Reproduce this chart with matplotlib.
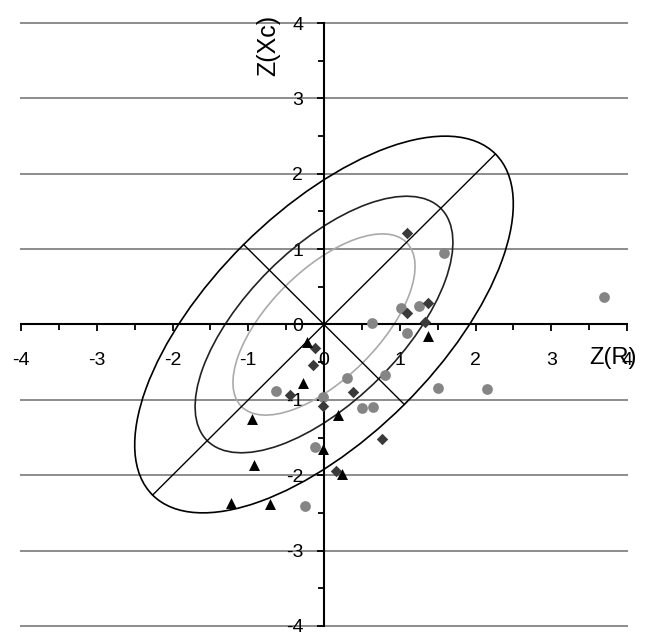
import matplotlib
matplotlib.use("Agg")
import matplotlib.pyplot as plt
import numpy as np
from matplotlib.patches import Ellipse
from matplotlib.ticker import MultipleLocator, FuncFormatter

plt.rcParams['font.family'] = ['Liberation Sans', 'DejaVu Sans']

# grey circles
circ_x = [1.58, 1.01, 1.26, 0.64, 1.09, 0.81, 0.30, 1.51, 2.15, -0.63, -0.01, 0.50, 0.65, -0.12, -0.25, 3.69]
circ_y = [0.95, 0.22, 0.24, 0.02, -0.11, -0.67, -0.71, -0.84, -0.85, -0.88, -0.96, -1.11, -1.09, -1.62, -2.41, 0.37]
# dark diamonds
diam_x = [1.10, 1.37, 1.10, 1.33, -0.12, -0.14, -0.45, 0.38, -0.01, 0.76, 0.16]
diam_y = [1.22, 0.28, 0.15, 0.03, -0.31, -0.54, -0.93, -0.89, -1.08, -1.52, -1.95]
# black triangles
tri_x = [1.37, -0.23, -0.28, -0.95, 0.19, -0.01, -0.92, 0.24, -1.23, -0.71]
tri_y = [-0.15, -0.23, -0.78, -1.26, -1.20, -1.65, -1.87, -1.98, -2.37, -2.38]

# tolerance ellipses (semi-major, semi-minor), 45 deg tilt
ell_a = [1.54, 2.18, 3.2]
ell_b = [0.72, 1.02, 1.5]
ell_col = ['#aaaaaa', '#222222', '#000000']

fig = plt.figure(figsize=(6.46, 6.32), dpi=100)
ax = fig.add_axes([21/646, 1-626/632, 606/646, 603/632])
ax.set_xlim(-4, 4)
ax.set_ylim(-4, 4)

for yy in [-4, -3, -2, -1, 1, 2, 3, 4]:
    ax.plot([-4, 4], [yy, yy], color='#8c8c8c', lw=1.4, zorder=1, clip_on=False)

for a, b, c in zip(ell_a, ell_b, ell_col):
    ax.add_patch(Ellipse((0, 0), 2*a, 2*b, angle=45, fill=False, edgecolor=c, lw=1.2, zorder=2))

d1 = ell_a[-1]/np.sqrt(2)
d2 = ell_b[-1]/np.sqrt(2)
ax.plot([-d1, d1], [-d1, d1], color='black', lw=1.0, zorder=2)
ax.plot([-d2, d2], [d2, -d2], color='black', lw=1.0, zorder=2)

ax.scatter(circ_x, circ_y, marker='o', s=60, color='#858585', zorder=3, linewidths=0)
ax.scatter(diam_x, diam_y, marker='D', s=34, color='#3a3a3a', zorder=4, linewidths=0)
ax.scatter(tri_x, tri_y, marker='^', s=62, color='black', zorder=5, linewidths=0)

for s in ['top', 'right']:
    ax.spines[s].set_visible(False)
ax.spines['left'].set_position(('data', 0))
ax.spines['bottom'].set_position(('data', 0))
ax.spines['left'].set_linewidth(1.5)
ax.spines['bottom'].set_linewidth(1.5)
ax.spines['left'].set_zorder(2.5)
ax.spines['bottom'].set_zorder(2.5)

ax.xaxis.set_major_locator(MultipleLocator(1))
ax.yaxis.set_major_locator(MultipleLocator(1))
ax.xaxis.set_minor_locator(MultipleLocator(0.5))
ax.yaxis.set_minor_locator(MultipleLocator(0.5))
fmt = FuncFormatter(lambda v, p: '%d' % round(v))
ax.xaxis.set_major_formatter(fmt)
ax.yaxis.set_major_formatter(fmt)
ax.tick_params(which='major', direction='out', length=5, width=1.3, color='black')
ax.tick_params(which='minor', direction='out', length=4, width=1.3, color='black')
ax.tick_params(axis='x', which='major', pad=15, labelsize=14)
ax.tick_params(axis='y', which='major', pad=10, labelsize=14)

ax.text(-0.74, 3.7, 'Z(Xc)', rotation=90, ha='center', va='center', fontsize=18)
ax.text(3.82, -0.44, 'Z(R)', ha='center', va='center', fontsize=17)

fig.savefig('out.png', dpi=100)
